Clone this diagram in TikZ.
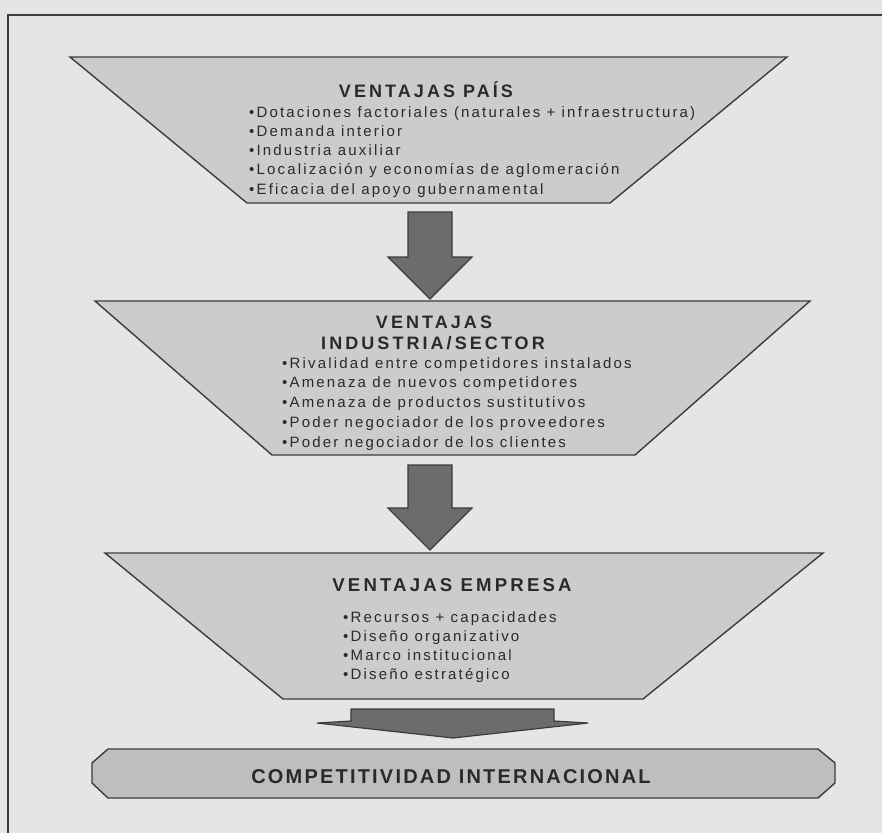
\documentclass[tikz,border=0pt]{standalone}
\usepackage{fontspec}
\setmainfont{Liberation Sans}
\newfontfamily\bodyfont[LetterSpace=14.5]{Liberation Sans}
\newfontfamily\headfont[LetterSpace=17]{Liberation Sans}
\newfontfamily\barfont[LetterSpace=11]{Liberation Sans}

\definecolor{pagebg}{RGB}{229,229,229}
\definecolor{trapfill}{RGB}{204,204,204}
\definecolor{barfill}{RGB}{190,190,190}
\definecolor{arrowfill}{RGB}{108,108,108}
\definecolor{edge}{RGB}{60,60,60}
\definecolor{ink}{RGB}{42,42,42}

\begin{document}
\begin{tikzpicture}[x=1pt,y=-1pt,
  panel/.style={fill=trapfill, draw=edge, line width=1.4pt, line join=miter},
  endbar/.style={fill=barfill, draw=edge, line width=1.4pt},
  blockarrow/.style={fill=arrowfill, draw=edge, line width=1.2pt, line join=miter},
  heading/.style={inner sep=0pt, anchor=base, text=ink, font=\headfont\bfseries\fontsize{18}{20}\selectfont},
  item/.style={inner sep=0pt, anchor=base west, text=ink, font=\bodyfont\fontsize{15}{19}\selectfont},
]
% page and frame
\fill[pagebg] (0,0) rectangle (882,833);
\useasboundingbox (0,0) rectangle (882,833);
\draw[edge, line width=2pt] (882,15) -- (8,15) -- (8,833);

% level 1: country advantages
\coordinate (p1a) at (70,57);  \coordinate (p1b) at (787,57);
\coordinate (p1c) at (610,203); \coordinate (p1d) at (247,203);
\path[panel] (p1a) -- (p1b) -- (p1c) -- (p1d) -- cycle;
\node[heading] (paishead) at (426,97) {VENTAJAS PAÍS};
\foreach \t [count=\i] in {•Dotaciones factoriales (naturales + infraestructura),
  •Demanda interior, •Industria auxiliar,
  •Localización y economías de aglomeración, •Eficacia del apoyo gubernamental}
  \node[item] (paisitem\i) at (249,{117+19.25*(\i-1)}) {\t};

% arrow 1
\path[blockarrow] (408,212) -- (452,212) -- (452,257) -- (472,257) -- (430,299)
  -- (388,257) -- (408,257) -- cycle;

% level 2: industry / sector advantages
\coordinate (p2a) at (95,301);  \coordinate (p2b) at (810,301);
\coordinate (p2c) at (635,455); \coordinate (p2d) at (272,455);
\path[panel] (p2a) -- (p2b) -- (p2c) -- (p2d) -- cycle;
\node[heading] (sectorhead1) at (434,328.5) {VENTAJAS};
\node[heading] (sectorhead2) at (433,349.5) {INDUSTRIA/SECTOR};
\foreach \t [count=\i] in {•Rivalidad entre competidores instalados,
  •Amenaza de nuevos competidores, •Amenaza de productos sustitutivos,
  •Poder negociador de los proveedores, •Poder negociador de los clientes}
  \node[item] (sectoritem\i) at (282,{368+19.8*(\i-1)}) {\t};

% arrow 2
\path[blockarrow] (408,465) -- (452,465) -- (452,508) -- (472,508) -- (430,550)
  -- (388,508) -- (408,508) -- cycle;

% level 3: firm advantages
\coordinate (p3a) at (105,553); \coordinate (p3b) at (823,553);
\coordinate (p3c) at (643,699); \coordinate (p3d) at (283,699);
\path[panel] (p3a) -- (p3b) -- (p3c) -- (p3d) -- cycle;
\node[heading, font=\headfont\bfseries\fontsize{18.6}{20}\selectfont] (firmhead)
  at (452,591) {VENTAJAS EMPRESA};
\foreach \t [count=\i] in {•Recursos + capacidades, •Diseño organizativo,
  •Marco institucional, •Diseño estratégico}
  \node[item] (firmitem\i) at (343,{622+19*(\i-1)}) {\t};

% arrow 3 (wide and flat)
\path[blockarrow] (351,709) -- (554,709) -- (554,721) -- (588,723) -- (453,738)
  -- (317,723) -- (351,721) -- cycle;

% outcome bar
\path[endbar] (108,749) -- (818,749) -- (835,763) -- (835,783) -- (818,798)
  -- (108,798) -- (92,783) -- (92,763) -- cycle;
\node[heading, font=\barfont\bfseries\fontsize{20}{22}\selectfont] (outcome)
  at (451,783) {COMPETITIVIDAD INTERNACIONAL};
\end{tikzpicture}
\end{document}
